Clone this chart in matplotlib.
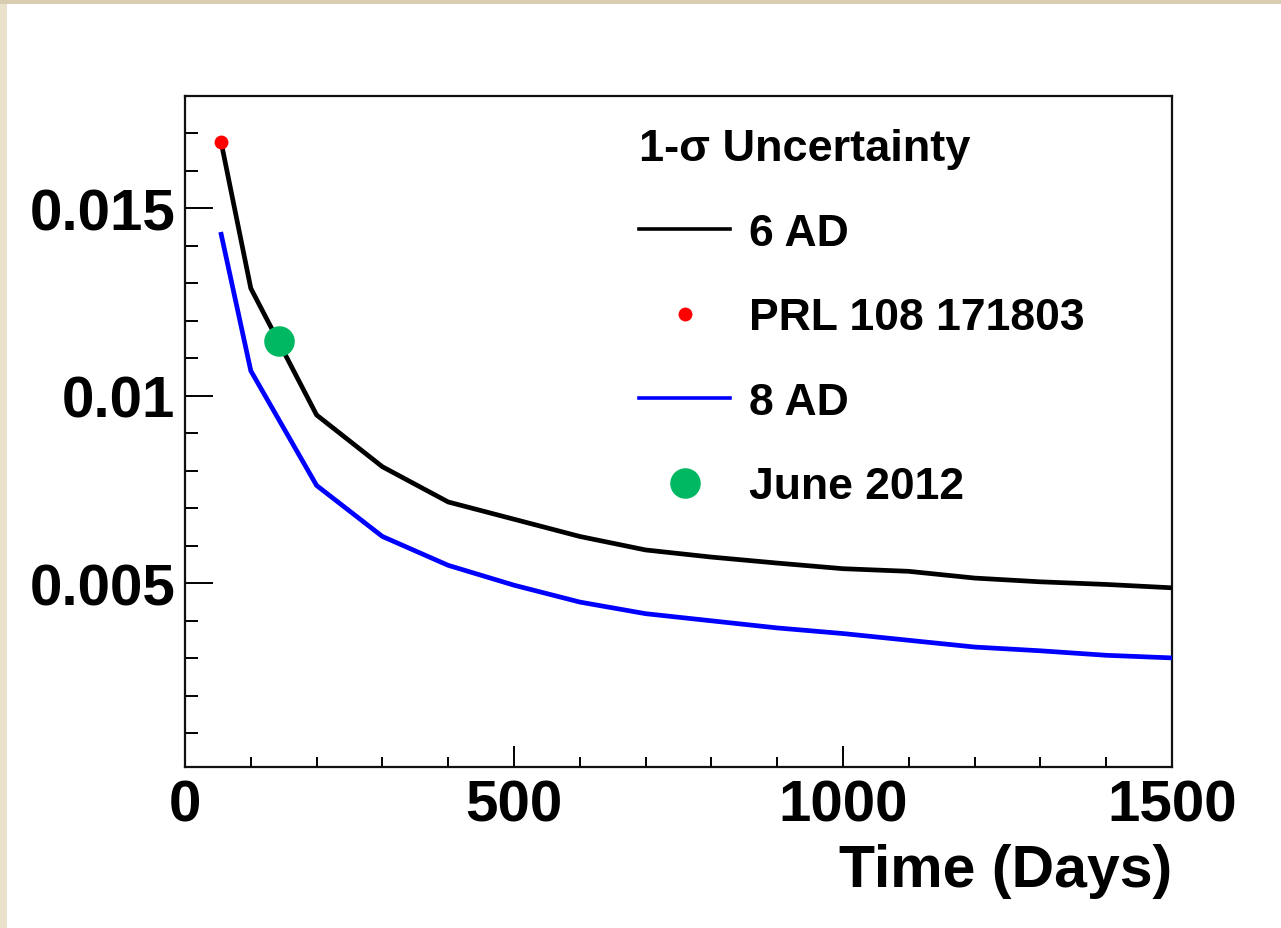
import matplotlib
matplotlib.use("Agg")
import matplotlib.pyplot as plt
from matplotlib.patches import Rectangle
from matplotlib.ticker import MultipleLocator, FixedLocator, FuncFormatter

plt.rcParams['font.family'] = ['Liberation Sans', 'DejaVu Sans']
plt.rcParams['font.weight'] = 'bold'

# Projected 1-sigma uncertainty versus exposure time
days = [55, 100, 200, 300, 400, 500, 600, 700, 800, 900, 1000, 1100, 1200, 1300, 1400, 1500]
sigma_6ad = [0.01676, 0.01287, 0.00949, 0.00811, 0.00717, 0.00671, 0.00625, 0.00589,
             0.00570, 0.00554, 0.00539, 0.00532, 0.00514, 0.00504, 0.00497, 0.00488]
sigma_8ad = [0.01431, 0.01067, 0.00761, 0.00625, 0.00548, 0.00495, 0.00450, 0.00419,
             0.00400, 0.00381, 0.00366, 0.00348, 0.00330, 0.00320, 0.00308, 0.00301]

prl_day, prl_sigma = [55], [0.01676]
june_day, june_sigma = [143], [0.01147]

x_major = [0, 500, 1000, 1500]
y_major = [0.005, 0.01, 0.015]

W, H = 1281, 929
fig = plt.figure(figsize=(W / 100, H / 100), dpi=100, facecolor='white')

# slide frame strips
fig.patches.append(Rectangle((0, 0), 7 / W, 1, transform=fig.transFigure,
                             facecolor='#ECE1CA', edgecolor='none', zorder=0))
fig.patches.append(Rectangle((0, 1 - 5 / H), 1, 5 / H, transform=fig.transFigure,
                             facecolor='#D8CDB1', edgecolor='none', zorder=0))

ax = fig.add_axes([185 / W, 1 - 768 / H, (1172 - 185) / W, (768 - 97) / H])

ax.plot(days, sigma_6ad, color='black', lw=3.4, label='6 AD', zorder=3)
ax.plot(prl_day, prl_sigma, 'o', color='#FF0000', ms=10, mec='none',
        label='PRL 108 171803', zorder=4)
ax.plot(days, sigma_8ad, color='#0000FF', lw=3.4, label='8 AD', zorder=3)
ax.plot(june_day, june_sigma, 'o', color='#00B862', ms=22, mec='none',
        label='June 2012', zorder=5)

ax.set_xlim(0, 1500)
ax.set_ylim(0.0001, 0.018)

ax.xaxis.set_major_locator(FixedLocator(x_major))
ax.xaxis.set_minor_locator(MultipleLocator(100))
ax.yaxis.set_major_locator(FixedLocator(y_major))
ax.yaxis.set_minor_locator(MultipleLocator(0.001))
ax.yaxis.set_major_formatter(FuncFormatter(lambda v, p: '%g' % v))
ax.xaxis.set_major_formatter(FuncFormatter(lambda v, p: '%g' % v))

ax.tick_params(axis='both', which='both', direction='in', top=False, right=False,
               width=1.4, labelsize=42)
ax.tick_params(axis='y', which='major', length=20, pad=7)
ax.tick_params(axis='y', which='minor', length=9.4)
ax.tick_params(axis='x', which='major', length=15, pad=8)
ax.tick_params(axis='x', which='minor', length=7.2)
for lab in ax.get_xticklabels() + ax.get_yticklabels():
    lab.set_fontweight('bold')

for s in ax.spines.values():
    s.set_linewidth(1.6)
    s.set_color('#111111')

ax.set_xlabel('Time (Days)', loc='right', fontsize=42.5, fontweight='bold', labelpad=8)

leg = ax.legend(loc='upper left', bbox_to_anchor=(639 / W, 1 - 129 / H),
                bbox_transform=fig.transFigure, frameon=False,
                title='1-σ Uncertainty',
                title_fontproperties={'size': 32.5, 'weight': 'bold'},
                prop={'size': 32, 'weight': 'bold'},
                alignment='left', borderpad=0, borderaxespad=0,
                handlelength=2.05, handletextpad=0.42, labelspacing=0.98,
                markerscale=1.0)
for line in leg.get_lines():
    if line.get_linestyle() != 'None':
        line.set_linewidth(2.6)

fig.savefig('out.png', dpi=100, facecolor='white')
